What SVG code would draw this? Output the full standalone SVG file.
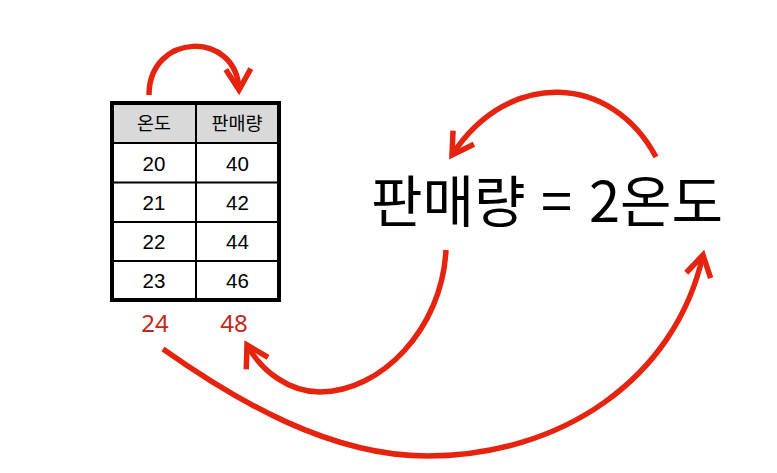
<svg xmlns="http://www.w3.org/2000/svg" width="777" height="473" viewBox="0 0 777 473">
<defs>
<style>
.grid{stroke:#000;stroke-width:2}
.hdr{font-family:"Noto Sans CJK KR","Noto Sans",sans-serif;font-size:18.5px;fill:#000;text-anchor:middle}
.num{font-family:"Liberation Sans",Arial,sans-serif;font-size:20.5px;fill:#000;text-anchor:middle}
.red{font-family:"Noto Sans","Open Sans",sans-serif;font-size:24px;fill:#c4281c;text-anchor:middle}
.eq{font-family:"Noto Sans CJK KR","Noto Sans",sans-serif;font-size:56px;fill:#000}
.arc{fill:none;stroke:#e5240f;stroke-width:5.5;stroke-linecap:butt}
</style>
<marker id="head" markerUnits="userSpaceOnUse" markerWidth="40" markerHeight="40" refX="0" refY="0" viewBox="-30 -20 40 40" orient="auto" overflow="visible">
<path d="M-21,-12.5 L0,0 L-21,12.5" fill="none" stroke="#e5240f" stroke-width="5.5" stroke-linejoin="miter" stroke-miterlimit="10"/>
</marker>
</defs>
<rect width="777" height="473" fill="#fff"/>
<g id="table">
<rect x="112" y="103" width="167" height="197" fill="#fff" stroke="none"/>
<rect x="112" y="103" width="167" height="40" fill="#d9d9d9"/>
<line class="grid" x1="112" y1="143" x2="279" y2="143"/>
<line class="grid" x1="112" y1="182.5" x2="279" y2="182.5"/>
<line class="grid" x1="112" y1="222" x2="279" y2="222"/>
<line class="grid" x1="112" y1="261" x2="279" y2="261"/>
<line class="grid" x1="196" y1="103" x2="196" y2="300"/>
<rect x="112" y="103" width="167" height="197" fill="none" stroke="#000" stroke-width="4"/>
<text class="hdr" x="154" y="130">온도</text>
<text class="hdr" x="237" y="130">판매량</text>
<text class="num" x="154" y="171">20</text>
<text class="num" x="237.5" y="171">40</text>
<text class="num" x="154" y="210">21</text>
<text class="num" x="237.5" y="210">42</text>
<text class="num" x="154" y="249">22</text>
<text class="num" x="237.5" y="249">44</text>
<text class="num" x="154" y="287.5">23</text>
<text class="num" x="237.5" y="287.5">46</text>
</g>
<g id="next-values">
<text class="red" x="155" y="332">24</text>
<text class="red" x="234" y="332">48</text>
</g>
<g id="equation">
<text class="eq" y="222"><tspan x="371">판매량</tspan><tspan x="541">=</tspan><tspan x="589">2온도</tspan></text>
</g>
<g id="connectors">
<path class="arc" d="M149,95 C149,32 237,30 239,90" marker-end="url(#head)"/>
<path class="arc" d="M656,157 C612,74 509,68 452,155" marker-end="url(#head)"/>
<path class="arc" d="M446,250 C442,330 380,392 320,392 C290,392 262,372 247,345" marker-end="url(#head)"/>
<path class="arc" d="M163,349 C235,400 330,456 427,456 C560,456 675,380 703,255" marker-end="url(#head)"/>
</g>
</svg>
